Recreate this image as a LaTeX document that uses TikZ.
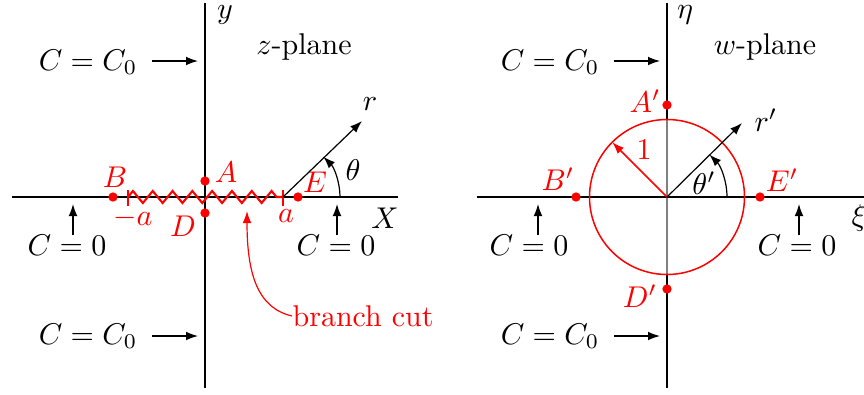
\documentclass[tikz,border=0pt]{standalone}
\usetikzlibrary{decorations.pathmorphing,arrows.meta}
\begin{document}
\begin{tikzpicture}[x=0.3333pt,y=-0.3333pt,
  axis/.style={line width=0.85pt},
  arr/.style={-{Latex[length=4pt,width=2.9pt]}, line width=0.4pt},
  dot/.style={circle,fill=red,inner sep=0pt,minimum size=3.1pt},
  lbl/.style={inner sep=0pt},
  rlbl/.style={inner sep=0pt,text=red}]
\useasboundingbox (0,0) rectangle (864,394);
% ================= left: z-plane =================
\coordinate (zyT) at (205,3); \coordinate (zyB) at (205,388);
\coordinate (zxL) at (12,197); \coordinate (zxR) at (398,197);
\coordinate (zO) at (205,197);
\draw[axis] (zyT) -- (zyB);
\draw[axis] (zxL) -- (zxR);
\coordinate (ma) at (128,197); \coordinate (pa) at (283,197);
\draw[red,line width=0.7pt,decorate,decoration={zigzag,segment length=6.6pt,amplitude=2pt}] (ma) -- (pa);
\draw[red,line width=0.7pt] (128,190) -- (128,206);
\draw[red,line width=0.7pt] (283,190) -- (283,206);
\node[lbl] (ylab) at (225,15) {$y$};
\node[lbl] (zpl) at (304,47) {$z$-plane};
\node[lbl] (Xlab) at (385,218) {$X$};
\node[lbl] (zC0t) at (88,62) {$C = C_0$};
\coordinate (zC0tA) at (152,61);
\draw[arr] (zC0tA) -- (198,61);
\node[lbl] (zC0b) at (88,336) {$C = C_0$};
\coordinate (zC0bA) at (152,336);
\draw[arr] (zC0bA) -- (198,336);
\node[lbl] (zCl) at (67,245) {$C = 0$};
\draw[arr] (73,235) -- (73,204);
\node[lbl] (zCr) at (336,245) {$C = 0$};
\draw[arr] (337,235) -- (337,204);
% points
\node[dot] (B) at (113,197) {};
\node[dot] (A) at (205,181) {};
\node[dot] (D) at (205,213) {};
\node[dot] (E) at (298,197) {};
\node[rlbl] (Bl) at (115,177) {$B$};
\node[rlbl] (Al) at (226,172) {$A$};
\node[rlbl] (Dl) at (183,226) {$D$};
\node[rlbl] (El) at (315,182) {$E$};
\node[rlbl] (mal) at (133,218) {$-a$};
\node[rlbl] (pal) at (286,216) {$a$};
% r, theta
\coordinate (rT) at (362,121);
\draw[arr] (pa) -- (rT);
\node[lbl] (rl) at (370,104) {$r$};
\draw[arr] (340,197) arc[start angle=0,end angle=-45,radius=57];
\node[lbl] (thl) at (353,170) {$\theta$};
% branch cut
\node[rlbl,anchor=west] (bc) at (292,316) {branch cut};
\coordinate (bcT) at (247,211);
\draw[red,line width=0.4pt,-{Latex[length=4pt,width=2.9pt]}] (bc.west) .. controls (258,308) and (247,275) .. (bcT);
% ================= right: w-plane =================
\coordinate (wO) at (667,197);
\coordinate (wyT) at (667,3); \coordinate (wyB) at (667,388);
\coordinate (wxL) at (477,197); \coordinate (wxR) at (864,197);
\draw[axis] (wyT) -- (667,119.5);
\draw[axis] (667,274.5) -- (wyB);
\draw[axis] (wxL) -- (589.5,197);
\draw[axis] (744.5,197) -- (wxR);
\draw[gray,line width=0.5pt] (667,119.5) -- (667,274.5);
\draw[line width=0.4pt] (589.5,197) -- (744.5,197);
\draw[red,line width=0.5pt] (wO) circle[radius=77.5];
\draw[red,line width=0.5pt,-{Latex[length=4pt,width=2.9pt]}] (wO) -- (612.2,142.2);
\node[rlbl] (one) at (644,150) {$1$};
\coordinate (rpT) at (742,123);
\draw[arr] (wO) -- (rpT);
\node[lbl] (rpl) at (766,120) {$r'$};
\draw[arr] (727,197) arc[start angle=0,end angle=-45,radius=60];
\node[lbl] (thpl) at (704,183) {$\theta'$};
\node[lbl] (etal) at (685,15) {$\eta$};
\node[lbl] (wpl) at (765,47) {$w$-plane};
\node[lbl,anchor=west] (xil) at (851,218) {$\xi$};
\node[lbl] (wC0t) at (550,62) {$C = C_0$};
\draw[arr] (614,61) -- (660,61);
\node[lbl] (wC0b) at (550,336) {$C = C_0$};
\draw[arr] (614,336) -- (660,336);
\node[lbl] (wCl) at (529,245) {$C = 0$};
\draw[arr] (538,235) -- (538,204);
\node[lbl] (wCr) at (797,245) {$C = 0$};
\draw[arr] (799,235) -- (799,204);
\node[dot] (Ap) at (667,105) {};
\node[dot] (Dp) at (667,289) {};
\node[dot] (Bp) at (576,197) {};
\node[dot] (Ep) at (760,197) {};
\node[rlbl] (Apl) at (645,101) {$A'$};
\node[rlbl] (Bpl) at (558,179) {$B'$};
\node[rlbl] (Epl) at (782,180) {$E'$};
\node[rlbl] (Dpl) at (640,296) {$D'$};
\end{tikzpicture}
\end{document}
